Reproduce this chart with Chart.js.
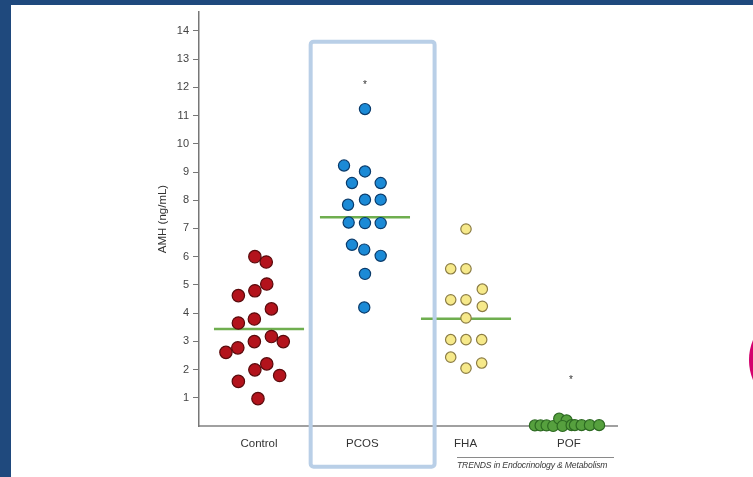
<!DOCTYPE html>
<html>
<head>
<meta charset="utf-8">
<title>AMH by group</title>
<script src="https://cdn.jsdelivr.net/npm/chart.js@4.4.1/dist/chart.umd.min.js"></script>
<style>
  html, body { margin: 0; padding: 0; background: #fff; }
  #wrap { position: relative; width: 753px; height: 477px; overflow: hidden; background: #fff; }
  #c { position: absolute; left: 0; top: 0; }
  .band-top { position: absolute; left: 0; top: 0; width: 753px; height: 5px; background: #1f497d; z-index: 2; }
  .band-left { position: absolute; left: 0; top: 0; width: 11px; height: 477px; background: #1f497d; z-index: 2; }
  .badge { position: absolute; left: 749px; top: 308px; width: 104px; height: 104px; border-radius: 50%; background: #d4006d; z-index: 2; }
  .source { position: absolute; left: 457px; top: 457px; width: 157px; border-top: 1px solid #8a8a8a;
            font: italic 8.6px 'Liberation Sans', Arial, sans-serif; color: #3a3a3a; padding-top: 2px;
            white-space: nowrap; letter-spacing: -0.15px; z-index: 2; }
</style>
</head>
<body>
<div id="wrap">
  <canvas id="c" width="753" height="477"></canvas>
  <div class="band-top"></div>
  <div class="band-left"></div>
  <div class="badge"></div>
  <div class="source">TRENDS in Endocrinology &amp; Metabolism</div>
</div>
<script>
// Groups along the x axis
const categories = ['Control', 'PCOS', 'FHA', 'POF'];
const yTicks = [1, 2, 3, 4, 5, 6, 7, 8, 9, 10, 11, 12, 13, 14];

// AMH values (ng/mL) per subject, with horizontal spread inside each group
const controlAMH = [6.0, 5.81, 5.03, 4.79, 4.62, 4.15, 3.79, 3.65, 3.17, 2.99, 2.99, 2.77, 2.61, 2.20, 1.99, 1.79, 1.58, 0.97];
const controlSpread = [-0.04, 0.07, 0.075, -0.04, -0.2, 0.12, -0.045, -0.2, 0.12, -0.045, 0.235, -0.205, -0.32, 0.075, -0.04, 0.2, -0.2, -0.01];

const pcosAMH = [11.23, 9.23, 9.02, 8.61, 8.61, 8.02, 8.02, 7.84, 7.21, 7.19, 7.19, 6.42, 6.25, 6.03, 5.39, 4.20];
const pcosSpread = [0.026, -0.177, 0.026, -0.10, 0.178, 0.026, 0.178, -0.138, -0.132, 0.026, 0.178, -0.10, 0.019, 0.178, 0.026, 0.019];

const fhaAMH = [6.98, 5.57, 5.57, 4.85, 4.47, 4.47, 4.24, 3.83, 3.06, 3.06, 3.06, 2.44, 2.23, 2.05];
const fhaSpread = [0.004, -0.144, 0.004, 0.162, -0.144, 0.004, 0.162, 0.004, -0.144, 0.004, 0.156, -0.144, 0.156, 0.004];

const pofAMH = [0.02, 0.02, 0.02, 0.0, 0.26, 0.2, 0.0, 0.03, 0.03, 0.03, 0.03, 0.03];
const pofSpread = [-0.329, -0.274, -0.216, -0.152, -0.094, -0.022, -0.061, 0.026, 0.058, 0.123, 0.203, 0.293];

// Group medians (no bar for POF) and significance markers
const medianAMH = [3.44, 7.40, 3.80, null];
const medianShift = [0, 0.026, 0.004, 0];
const starAMH = [null, 12.2, null, 1.74];
const starShift = [0, 0.026, 0, 0.02];

function points(groupIndex, values, spread) {
  return values.map((v, i) => ({ x: groupIndex + 1 + spread[i], y: v }));
}

const dotStyles = [
  { fill: '#b3131c', edge: '#5a0a0c', r: 6.2 },
  { fill: '#1b8ad6', edge: '#0a3b6b', r: 5.6 },
  { fill: '#f6e98a', edge: '#8c7d44', r: 5.2 },
  { fill: '#56a03e', edge: '#2d6a22', r: 5.5 }
];
const groupValues = [[controlAMH, controlSpread], [pcosAMH, pcosSpread], [fhaAMH, fhaSpread], [pofAMH, pofSpread]];

const datasets = [];
groupValues.forEach(([vals, spread], g) => {
  datasets.push({
    type: 'scatter',
    label: categories[g],
    data: points(g, vals, spread),
    backgroundColor: dotStyles[g].fill,
    borderColor: dotStyles[g].edge,
    borderWidth: 1.2,
    pointRadius: dotStyles[g].r,
    pointHoverRadius: dotStyles[g].r,
    clip: false,
    order: 0
  });
});
medianAMH.forEach((m, g) => {
  if (m === null) return;
  const cx = g + 1 + medianShift[g];
  datasets.push({
    type: 'line',
    label: categories[g] + ' median',
    data: [{ x: cx - 0.436, y: m }, { x: cx + 0.436, y: m }],
    borderColor: '#6fae4f',
    borderWidth: 2.5,
    pointRadius: 0,
    fill: false,
    clip: false,
    order: 1
  });
});

// Highlight frame around the PCOS column, and the asterisks above groups
const overlays = {
  id: 'overlays',
  afterDraw(chart) {
    const { ctx, scales: { x, y } } = chart;
    ctx.save();
    const l = x.getPixelForValue(1.5), r = x.getPixelForValue(2.7);
    const t = y.getPixelForValue(13.62), b = y.getPixelForValue(-1.44);
    ctx.strokeStyle = '#b9cfe7';
    ctx.lineWidth = 4;
    ctx.lineJoin = 'round';
    ctx.beginPath();
    ctx.roundRect(l, t, r - l, b - t, 3);
    ctx.stroke();

    ctx.fillStyle = '#333';
    ctx.font = '10px "Liberation Sans", Arial, sans-serif';
    ctx.textAlign = 'center';
    ctx.textBaseline = 'alphabetic';
    starAMH.forEach((v, g) => {
      if (v === null) return;
      ctx.fillText('*', x.getPixelForValue(g + 1 + starShift[g]), y.getPixelForValue(v) + 6);
    });
    ctx.restore();
  }
};

new Chart(document.getElementById('c'), {
  data: { datasets },
  options: {
    responsive: false,
    animation: false,
    devicePixelRatio: 1,
    layout: { padding: { left: 156, right: 136, top: 12, bottom: 0 } },
    plugins: { legend: { display: false }, tooltip: { enabled: false } },
    scales: {
      x: {
        type: 'linear',
        min: 0.419,
        max: 4.466,
        afterFit(s) { s.height = 51; },
        afterBuildTicks(s) { s.ticks = categories.map((c, i) => ({ value: i + 1 })); },
        grid: { display: false, drawTicks: false },
        border: { display: true, color: '#a0a0a0', width: 2 },
        ticks: {
          padding: 11,
          color: '#333',
          font: { family: '"Liberation Sans", Arial, sans-serif', size: 11.5 },
          callback: (v) => categories[Math.round(v) - 1] || ''
        }
      },
      y: {
        type: 'linear',
        min: 0,
        max: 14.67,
        afterFit(s) { s.width = 43; },
        afterBuildTicks(s) { s.ticks = yTicks.map(v => ({ value: v })); },
        grid: { display: true, drawOnChartArea: false, drawTicks: true, tickLength: 6, color: '#777', lineWidth: 1 },
        border: { display: true, color: '#777', width: 1.5 },
        ticks: {
          padding: 4,
          color: '#444',
          font: { family: '"Liberation Sans", Arial, sans-serif', size: 11 },
          callback: (v) => String(v)
        },
        title: {
          display: true,
          text: 'AMH (ng/mL)',
          color: '#333',
          padding: 0,
          font: { family: '"Liberation Sans", Arial, sans-serif', size: 11.5 }
        }
      }
    }
  },
  plugins: [overlays]
});
</script>
</body>
</html>
